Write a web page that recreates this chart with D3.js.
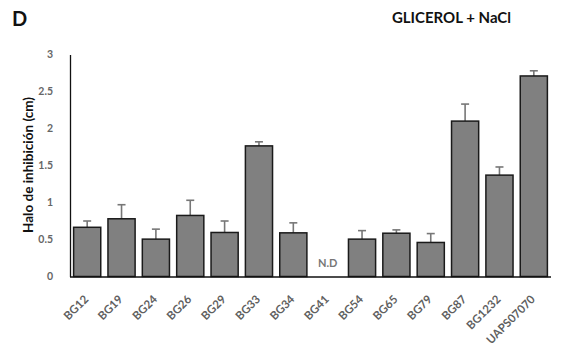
<!DOCTYPE html>
<html><head><meta charset="utf-8">
<script src="https://cdn.jsdelivr.net/npm/d3@7"></script>
<style>body{margin:0;background:#fff}svg{display:block}</style>
</head><body>
<svg id="c" width="574" height="345"></svg>
<script>
const categories = ["BG12","BG19","BG24","BG26","BG29","BG33","BG34","BG41","BG54","BG65","BG79","BG87","BG1232","UAPS07070"];
const values = [0.665,0.78,0.505,0.825,0.595,1.765,0.59,null,0.505,0.585,0.46,2.10,1.37,2.71];
const errors = [0.085,0.19,0.135,0.205,0.155,0.055,0.135,null,0.115,0.045,0.12,0.23,0.11,0.07];
const yTicks = [0,0.5,1,1.5,2,2.5,3];
const yTickLabels = ["0","0.5","1","1.5","2","2.5","3"];
const ndLabel = "N.D";
const panelLabel = "D";
const title = "GLICEROL + NaCl";
const yLabel = "Halo de inhibición (cm)";

const svg = d3.select("#c");
const font = "Lato, 'Open Sans', sans-serif";
const x = d3.scaleBand().domain(categories).range([70, 551]).paddingInner(0.21).paddingOuter(0.105);
const y = d3.scaleLinear().domain([0,3]).range([276.5, 54.5]);

svg.append("text").attr("x", 12).attr("y", 26).attr("font-family", font).attr("font-weight", "bold")
  .attr("font-size", 20).attr("fill", "#111").text(panelLabel);
svg.append("text").attr("x", 511).attr("y", 23).attr("text-anchor", "end").attr("font-family", font)
  .attr("font-weight", "bold").attr("font-size", 15).attr("fill", "#111").text(title);

// y axis
const yAxis = d3.axisLeft(y).tickValues(yTicks).tickFormat((d,i)=>yTickLabels[i]).tickSize(0).tickPadding(17);
const ga = svg.append("g").attr("transform", "translate(70,0)").call(yAxis);
ga.select(".domain").attr("stroke", "#111").attr("stroke-width", 1.3);
ga.selectAll("text").attr("font-family", font).attr("font-size", 10.5).attr("font-weight", "bold").attr("fill", "#666");

svg.append("text").attr("transform", "translate(33,165) rotate(-90)").attr("text-anchor", "middle")
  .attr("font-family", font).attr("font-weight", "bold").attr("font-size", 13.5).attr("fill", "#111").text(yLabel);

const data = categories.map((c,i)=>({c, v: values[i], e: errors[i]}));
const bars = data.filter(d=>d.v!=null);

// error bars
const eg = svg.append("g").attr("stroke", "#777").attr("stroke-width", 1.6);
bars.forEach(d=>{
  const cx = x(d.c) + x.bandwidth()/2;
  eg.append("line").attr("x1", cx).attr("x2", cx).attr("y1", y(d.v)).attr("y2", y(d.v + d.e));
  eg.append("line").attr("x1", cx-4).attr("x2", cx+4).attr("y1", y(d.v + d.e)).attr("y2", y(d.v + d.e));
});

svg.append("g").selectAll("rect").data(bars).join("rect")
  .attr("x", d=>x(d.c)).attr("width", x.bandwidth())
  .attr("y", d=>y(d.v)).attr("height", d=>y(0)-y(d.v))
  .attr("fill", "#808080").attr("stroke", "#1a1a1a").attr("stroke-width", 1.5);

// N.D
data.filter(d=>d.v==null).forEach(d=>{
  svg.append("text").attr("x", x(d.c)+x.bandwidth()/2).attr("y", 267).attr("text-anchor", "middle")
    .attr("font-family", font).attr("font-weight", "bold").attr("font-size", 11).attr("fill", "#777").text(ndLabel);
});

// x axis
const xAxis = d3.axisBottom(x).tickSize(0).tickPadding(0);
const gx = svg.append("g").attr("transform", "translate(0,277)").call(xAxis);
gx.select(".domain").attr("stroke", "#111").attr("stroke-width", 1.3).attr("d", "M70,0H551");
gx.selectAll("text").attr("font-family", font).attr("font-size", 11.5).attr("font-weight", "bold").attr("fill", "#5f5f5f")
  .attr("text-anchor", "end").attr("dy", 0)
  .attr("transform", "translate(2,23) rotate(-45)");
</script>
</body></html>
